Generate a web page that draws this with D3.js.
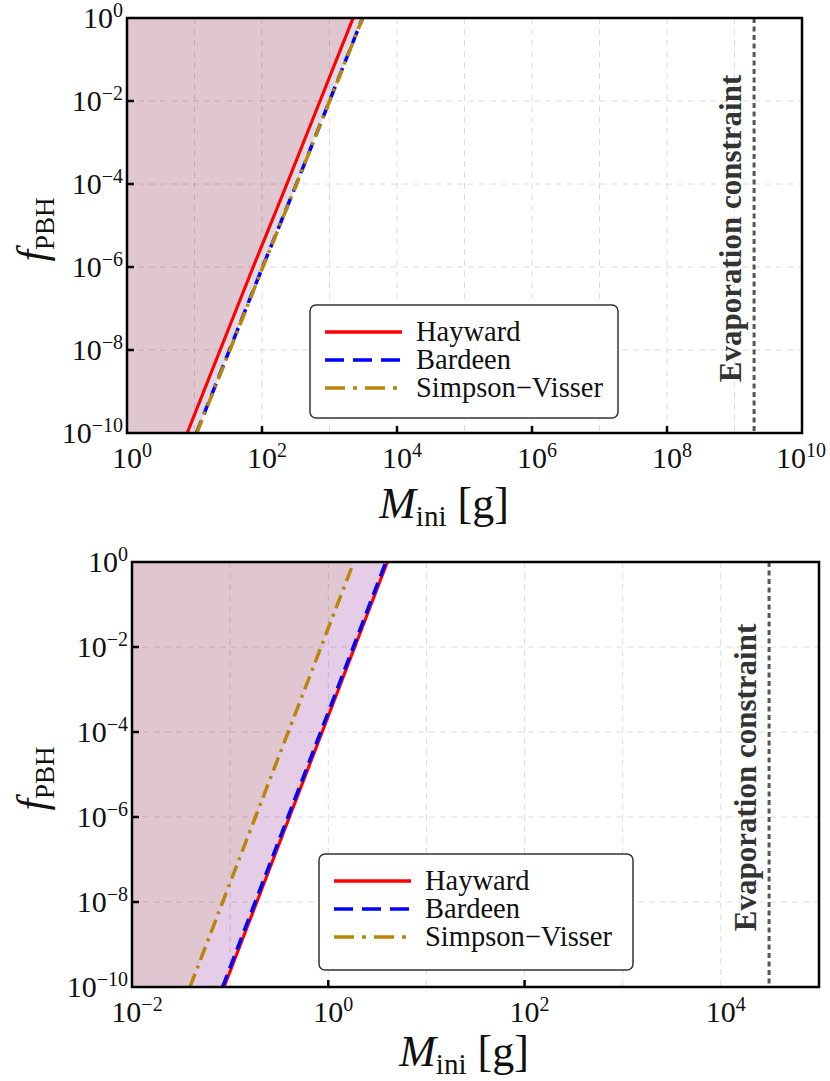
<!DOCTYPE html>
<html>
<head>
<meta charset="utf-8">
<script src="https://cdn.jsdelivr.net/npm/d3@7"></script>
<style>
  body { margin: 0; background: #fff; }
  svg text { font-family: "Liberation Serif", "DejaVu Serif", serif; fill: #111; }
</style>
</head>
<body>
<div class="chart"></div>
<script>
const fValues = [1e-10, 1e-8, 1e-6, 1e-4, 1e-2, 1];

// top panel: M_ini [g] of each curve at the f values above
const topHayward = [7.8, 24, 74, 234, 724, 2240];
const topBardeen = [10.7, 33, 102, 324, 1000, 3090];
const topSimpsonVisser = [10.8, 33.5, 103, 326, 1005, 3100];
const topEvaporation = 1.95e9;

// bottom panel
const botHayward = [0.0867, 0.187, 0.402, 0.866, 1.86, 4.0];
const botBardeen = [0.0838, 0.180, 0.388, 0.837, 1.80, 3.86];
const botSimpsonVisser = [0.039, 0.084, 0.181, 0.391, 0.843, 1.82];
const botEvaporation = 3.1e4;

const seriesNames = ["Hayward", "Bardeen", "Simpson\u2212Visser"];
const topXTickExps = [0, 2, 4, 6, 8, 10];
const botXTickExps = [-2, 0, 2, 4];
const yTickExps = [0, -2, -4, -6, -8, -10];

const styles = [
    { color: "#ff0000", dash: null, width: 3.2, fill: "rgba(255,0,0,0.1)" },
    { color: "#0000ff", dash: "13,7", width: 3.5, fill: "rgba(0,0,255,0.1)" },
    { color: "#b8860b", dash: "14,6,3,6", width: 3.5, fill: "rgba(184,134,11,0.1)" }
];

const svg = d3.select(".chart")
    .append("svg")
    .attr("width", 830)
    .attr("height", 1081)
    .attr("font-family", "'Liberation Serif', 'DejaVu Serif', serif");

function sup(sel, exp) {
    const lab = exp < 0 ? "\u2212" + Math.abs(exp) : String(exp);
    sel.append("tspan").text("10");
    sel.append("tspan").attr("font-size", 20).attr("dy", -11).text(lab);
}

function drawPanel(p) {
    const x = d3.scaleLog().domain(p.xDomain).range([p.left, p.right]);
    const y = d3.scaleLog().domain([1e-10, 1]).range([p.bottom, p.top]);
    const g = svg.append("g");

    const clipId = "clip" + p.id;
    g.append("clipPath").attr("id", clipId)
        .append("rect")
        .attr("x", p.left).attr("y", p.top)
        .attr("width", p.right - p.left).attr("height", p.bottom - p.top);

    // grid: every decade in x, every 2 decades in y
    const lo = Math.log10(p.xDomain[0]), hi = Math.log10(p.xDomain[1]);
    const xGrid = d3.range(lo + 1, hi).map(e => Math.pow(10, e));
    g.selectAll(".vgrid").data(xGrid).enter().append("line")
        .attr("x1", d => x(d)).attr("x2", d => x(d))
        .attr("y1", p.top).attr("y2", p.bottom)
        .attr("stroke", "#dcdcdc").attr("stroke-width", 1).attr("stroke-dasharray", "6,5");
    g.selectAll(".hgrid").data(yTickExps.slice(1, -1)).enter().append("line")
        .attr("x1", p.left).attr("x2", p.right)
        .attr("y1", d => y(Math.pow(10, d))).attr("y2", d => y(Math.pow(10, d)))
        .attr("stroke", "#dcdcdc").attr("stroke-width", 1).attr("stroke-dasharray", "6,5");

    const plot = g.append("g").attr("clip-path", `url(#${clipId})`);

    // fills: everything left of each curve
    const area = d3.area()
        .y(d => y(d.f))
        .x0(p.left - 5)
        .x1(d => x(d.m));
    p.series.forEach((s, i) => {
        const pts = fValues.map((f, j) => ({ f: f, m: s[j] }));
        plot.append("path").datum(pts)
            .attr("d", area)
            .attr("fill", styles[i].fill);
    });

    const line = d3.line().x(d => x(d.m)).y(d => y(d.f));
    p.series.forEach((s, i) => {
        const pts = fValues.map((f, j) => ({ f: f, m: s[j] }));
        plot.append("path").datum(pts)
            .attr("d", line)
            .attr("fill", "none")
            .attr("stroke", styles[i].color)
            .attr("stroke-width", styles[i].width)
            .attr("stroke-dasharray", styles[i].dash);
    });

    // evaporation constraint
    plot.append("line")
        .attr("x1", x(p.evap)).attr("x2", x(p.evap))
        .attr("y1", p.top).attr("y2", p.bottom)
        .attr("stroke", "#555").attr("stroke-width", 3).attr("stroke-dasharray", "5,3.5");
    g.append("text")
        .attr("transform", `translate(${x(p.evap) - 13}, ${(p.top + p.bottom) / 2 + 3}) rotate(-90)`)
        .attr("text-anchor", "middle")
        .attr("font-weight", "bold")
        .attr("font-size", 31)
        .style("fill", "#333")
        .text("Evaporation constraint");

    // ticks
    g.selectAll(".xtick").data(p.xTicks.slice(1, -1)).enter().append("line")
        .attr("x1", d => x(Math.pow(10, d))).attr("x2", d => x(Math.pow(10, d)))
        .attr("y1", p.bottom).attr("y2", p.bottom - 7)
        .attr("stroke", "#000").attr("stroke-width", 2.5);
    g.selectAll(".ytick").data(yTickExps.slice(1, -1)).enter().append("line")
        .attr("x1", p.left).attr("x2", p.left + 7)
        .attr("y1", d => y(Math.pow(10, d))).attr("y2", d => y(Math.pow(10, d)))
        .attr("stroke", "#000").attr("stroke-width", 2.5);

    g.selectAll(".xlab").data(p.xTicks).enter().append("text")
        .attr("x", d => Math.min(x(Math.pow(10, d)) + 5, 801))
        .attr("y", p.bottom + 35)
        .attr("text-anchor", "middle")
        .attr("font-size", 30)
        .each(function(d) { sup(d3.select(this), d); });
    g.selectAll(".ylab").data(yTickExps).enter().append("text")
        .attr("x", p.left - 4)
        .attr("y", d => y(Math.pow(10, d)) + 10)
        .attr("text-anchor", "end")
        .attr("font-size", 30)
        .each(function(d) { sup(d3.select(this), d); });

    // frame
    g.append("rect")
        .attr("x", p.left).attr("y", p.top)
        .attr("width", p.right - p.left).attr("height", p.bottom - p.top)
        .attr("fill", "none").attr("stroke", "#000").attr("stroke-width", 2.5);

    // axis titles
    const yt = g.append("text")
        .attr("transform", `translate(46, ${(p.top + p.bottom) / 2 + 4}) rotate(-90)`)
        .attr("text-anchor", "middle");
    yt.append("tspan").attr("font-style", "italic").attr("font-size", 42).text("f");
    yt.append("tspan").attr("font-size", 27).attr("dy", 8).text("PBH");

    const xt = g.append("text")
        .attr("x", p.xTitleX).attr("y", p.xTitleY)
        .attr("text-anchor", "middle")
        .attr("font-size", 44);
    xt.append("tspan").attr("font-style", "italic").text("M");
    xt.append("tspan").attr("font-size", 29).attr("dy", 8).text("ini");
    xt.append("tspan").attr("dy", -8).text(" [g]");

    // legend
    const L = p.legend;
    const lg = g.append("g").attr("transform", `translate(${L.x}, ${L.y})`);
    lg.append("rect")
        .attr("width", L.w).attr("height", L.h)
        .attr("rx", 6).attr("ry", 6)
        .attr("fill", "#fff").attr("stroke", "#333").attr("stroke-width", 1.5);
    seriesNames.forEach((name, i) => {
        const ry = 27 + i * 28;
        lg.append("line")
            .attr("x1", 15).attr("x2", 92)
            .attr("y1", ry).attr("y2", ry)
            .attr("stroke", styles[i].color)
            .attr("stroke-width", 3.5)
            .attr("stroke-dasharray", i === 1 ? "19,9" : (i === 2 ? "20,8,4,8" : null));
        lg.append("text")
            .attr("x", 106).attr("y", ry + 9)
            .attr("font-size", 28.5)
            .text(name);
    });
}

drawPanel({
    id: "top",
    xDomain: [1, 1e10],
    left: 127, right: 802, top: 18, bottom: 433,
    series: [topHayward, topBardeen, topSimpsonVisser],
    evap: topEvaporation,
    xTicks: topXTickExps,
    xTitleX: 444, xTitleY: 518,
    legend: { x: 310, y: 305, w: 308, h: 113 }
});

drawPanel({
    id: "bot",
    xDomain: [1e-2, 1e5],
    left: 132, right: 819, top: 562, bottom: 987,
    series: [botHayward, botBardeen, botSimpsonVisser],
    evap: botEvaporation,
    xTicks: botXTickExps,
    xTitleX: 464, xTitleY: 1066,
    legend: { x: 319, y: 854, w: 314, h: 116 }
});
</script>
</body>
</html>
